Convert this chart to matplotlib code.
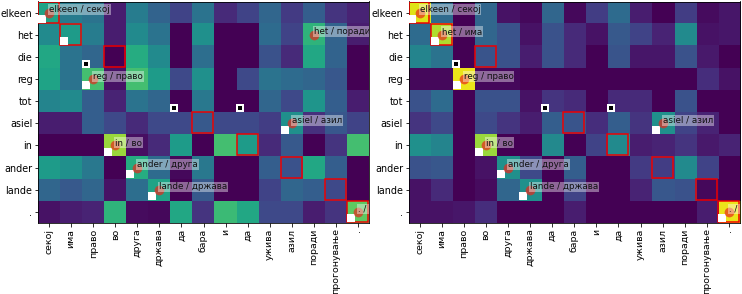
import matplotlib
matplotlib.use('Agg')
import matplotlib.pyplot as plt
from matplotlib.patches import Rectangle

src_words = ['elkeen', 'het', 'die', 'reg', 'tot', 'asiel', 'in', 'ander', 'lande', '.']
tgt_words = ['секој', 'има', 'право', 'во', 'друга', 'држава', 'да', 'бара', 'и', 'да',
             'ужива', 'азил', 'поради', 'прогонување', '.']

# attention
left_att = [
    [.58, .42, .38, .08, .42, .32, .20, .38, .12, .20, .33, .17, .30, .15, .10],
    [.48, .55, .42, .08, .48, .38, .00, .50, .00, .00, .35, .20, .65, .32, .08],
    [.60, .38, .33, .00, .62, .48, .00, .36, .00, .00, .25, .12, .60, .32, .00],
    [.58, .38, .70, .05, .70, .55, .22, .50, .00, .22, .38, .35, .33, .27, .00],
    [.45, .48, .30, .10, .38, .33, .00, .40, .00, .00, .33, .22, .52, .30, .08],
    [.08, .08, .30, .22, .12, .22, .22, .28, .22, .22, .18, .50, .14, .27, .20],
    [.00, .00, .00, .85, .04, .12, .55, .00, .70, .55, .12, .28, .00, .15, .70],
    [.55, .50, .40, .00, .62, .35, .02, .40, .00, .00, .30, .25, .60, .30, .00],
    [.33, .28, .33, .05, .36, .58, .00, .28, .00, .00, .20, .33, .30, .22, .00],
    [.05, .08, .10, .65, .03, .02, .60, .15, .68, .60, .22, .22, .08, .15, .75],
]
right_att = [
    [.95, .35, .00, .33, .05, .02, .33, .02, .18, .35, .08, .00, .18, .03, .06],
    [.35, .88, .00, .33, .25, .05, .25, .12, .05, .28, .20, .10, .48, .05, .06],
    [.45, .38, .00, .26, .25, .08, .25, .12, .00, .26, .06, .06, .25, .07, .00],
    [.02, .02, .97, .02, .02, .00, .00, .00, .00, .00, .00, .00, .00, .13, .05],
    [.25, .35, .00, .25, .25, .05, .15, .12, .00, .12, .12, .00, .25, .00, .00],
    [.15, .22, .00, .22, .15, .08, .30, .26, .13, .30, .15, .50, .20, .10, .00],
    [.50, .45, .00, .85, .00, .00, .47, .00, .20, .48, .08, .10, .15, .07, .10],
    [.25, .27, .00, .05, .50, .22, .00, .30, .00, .00, .17, .18, .48, .20, .00],
    [.05, .12, .00, .03, .33, .50, .00, .20, .00, .00, .10, .27, .25, .02, .00],
    [.05, .05, .06, .13, .00, .00, .00, .08, .00, .00, .00, .00, .00, .08, .97],
]

# (row, col) of the reference alignment
gold = [(0, 0), (1, 1), (2, 3), (5, 7), (6, 9), (7, 11), (8, 13), (9, 14)]
unk = [(2, 2), (4, 6), (4, 9)]
white = [(0, 0), (1, 1), (3, 2), (5, 11), (6, 3), (7, 4), (8, 5), (9, 14)]
left_hits = [(0, 0), (1, 12), (3, 2), (5, 11), (6, 3), (7, 4), (8, 5), (9, 14)]
right_hits = [(0, 0), (1, 1), (3, 2), (5, 11), (6, 3), (7, 4), (8, 5), (9, 14)]

W, H = 742, 294
fig = plt.figure(figsize=(W / 72, H / 72), dpi=72)
ax1 = fig.add_axes([38 / W, 1 - 223 / H, 331 / W, 221.5 / H])
ax2 = fig.add_axes([408.5 / W, 1 - 223 / H, 331.5 / W, 221.5 / H])


def draw(ax, att, hits):
    ax.imshow(att, cmap='viridis', vmin=0, vmax=1, aspect='auto', interpolation='nearest')
    ax.set_xticks(range(len(tgt_words)))
    ax.set_xticklabels(tgt_words, rotation=90, fontsize=9.4)
    ax.set_yticks(range(len(src_words)))
    ax.set_yticklabels(src_words, fontsize=9.6)
    ax.tick_params(pad=2, length=3.5)
    for r, c in gold:
        ax.add_patch(Rectangle((c - .5, r - .5), .95, .95, fill=False, ec='#f00000', lw=1.5, zorder=3))
    ax.scatter([c - .32 for r, c in white], [r + .28 for r, c in white],
               marker='s', s=72, c='white', linewidths=0, zorder=4, clip_on=False)
    ax.scatter([c - .34 for r, c in unk], [r + .3 for r, c in unk],
               marker='s', s=72, c='white', linewidths=0, zorder=4)
    ax.scatter([c - .34 for r, c in unk], [r + .3 for r, c in unk],
               marker='s', s=22, c='black', linewidths=0, zorder=5)
    ax.scatter([c for r, c in hits], [r for r, c in hits],
               s=95, c='#e8291c', alpha=.7, linewidths=0, zorder=5)
    for r, c in hits:
        ax.text(c, r - .13, src_words[r] + ' / ' + tgt_words[c], fontsize=8.7, color='#111111',
                va='center', ha='left', zorder=6, clip_on=True,
                bbox=dict(boxstyle='square,pad=0.1', fc='white', ec='none', alpha=.4))
    ax.set_xlim(-.5, 14.5)
    ax.set_ylim(9.5, -.5)


draw(ax1, left_att, left_hits)
draw(ax2, right_att, right_hits)

plt.savefig('out.png', dpi=72)
